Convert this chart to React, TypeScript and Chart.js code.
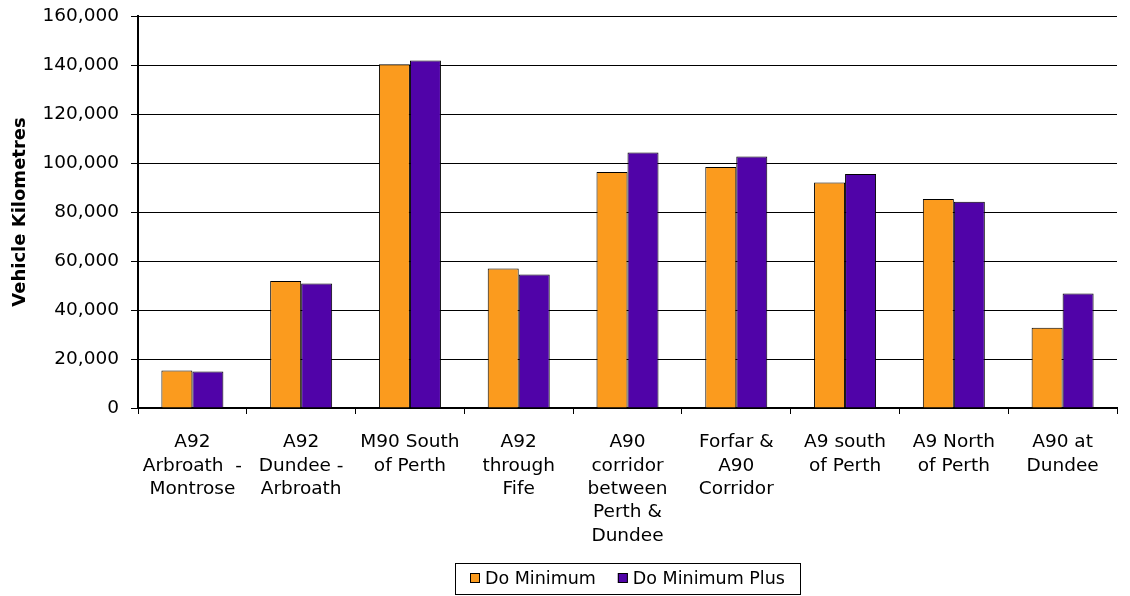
import React, { useEffect, useRef } from "react";
import { Chart, registerables } from "chart.js";

Chart.register(...registerables);

const categories: string[][] = [
  ["A92", "Arbroath  -", "Montrose"],
  ["A92", "Dundee -", "Arbroath"],
  ["M90 South", "of Perth"],
  ["A92", "through", "Fife"],
  ["A90", "corridor", "between", "Perth &", "Dundee"],
  ["Forfar &", "A90", "Corridor"],
  ["A9 south", "of Perth"],
  ["A9 North", "of Perth"],
  ["A90 at", "Dundee"],
];

const doMinimum: number[] = [15300, 51800, 140300, 56900, 96300, 98400, 92000, 85300, 32800];
const doMinimumPlus: number[] = [14900, 50800, 141800, 54500, 104300, 102700, 95500, 84200, 46700];

const seriesNames = ["Do Minimum", "Do Minimum Plus"];
const seriesColors = ["#FB9B1E", "#5003A8"];
const yTitle = "Vehicle Kilometres";

const FONT = "'DejaVu Sans', Verdana, sans-serif";

const customLegend = {
  id: "customLegend",
  afterDraw(chart: any) {
    const ctx = chart.ctx;
    const area = chart.chartArea;
    const cx = (area.left + area.right) / 2;
    const cy = 578;
    ctx.save();
    ctx.font = `17.5px ${FONT}`;
    ctx.textBaseline = "middle";
    ctx.fillStyle = "#000";
    const box = 10;
    const gapBoxText = 5;
    const gapItems = 22;
    const padX = 15;
    const items = chart.data.datasets.map((d: any) => ({
      label: d.label,
      color: d.backgroundColor,
      w: ctx.measureText(d.label).width,
    }));
    let total = 0;
    items.forEach((it: any, i: number) => {
      total += box + gapBoxText + it.w + (i < items.length - 1 ? gapItems : 0);
    });
    const left = Math.round(cx - total / 2);
    const boxW = Math.round(total + padX * 2);
    ctx.strokeStyle = "#000";
    ctx.lineWidth = 1;
    ctx.strokeRect(left - padX + 0.5, cy - 15 + 0.5, boxW, 31);
    let x = left;
    items.forEach((it: any) => {
      ctx.fillStyle = it.color;
      ctx.fillRect(x, cy - box / 2, box, box);
      ctx.strokeStyle = "#000";
      ctx.strokeRect(x + 0.5, cy - box / 2 + 0.5, box - 1, box - 1);
      ctx.fillStyle = "#000";
      ctx.fillText(it.label, x + box + gapBoxText, cy + 1);
      x += box + gapBoxText + it.w + gapItems;
    });
    ctx.restore();
  },
};

export default function App() {
  const ref = useRef<HTMLCanvasElement>(null);
  useEffect(() => {
    document.body.style.margin = "0";
    const chart = new Chart(ref.current!, {
      type: "bar",
      data: {
        labels: categories,
        datasets: [
          {
            label: seriesNames[0],
            data: doMinimum,
            backgroundColor: seriesColors[0],
            borderColor: "#000",
            borderWidth: 1,
            categoryPercentage: 0.57,
            barPercentage: 1,
          },
          {
            label: seriesNames[1],
            data: doMinimumPlus,
            backgroundColor: seriesColors[1],
            borderColor: "#000",
            borderWidth: 1,
            categoryPercentage: 0.57,
            barPercentage: 1,
          },
        ],
      },
      options: {
        responsive: false,
        animation: false,
        maintainAspectRatio: false,
        layout: { padding: { top: 16, right: 13, left: 0, bottom: 0 } },
        plugins: {
          tooltip: { enabled: false },
          legend: { display: false },
        },
        scales: {
          x: {
            grid: {
              display: true,
              drawOnChartArea: false,
              drawTicks: true,
              tickLength: 6,
              color: "#000",
              offset: true,
            },
            border: { color: "#000", width: 2 },
            ticks: {
              color: "#000",
              font: { family: FONT, size: 18.5, lineHeight: 1.26 },
              padding: 17,
              maxRotation: 0,
              autoSkip: false,
            },
            afterFit(scale: any) {
              scale.height = 188;
              scale.paddingLeft = 0;
              scale.paddingRight = 0;
            },
          },
          y: {
            min: 0,
            max: 160000,
            ticks: {
              stepSize: 20000,
              color: "#000",
              font: { family: FONT, size: 18.5 },
              padding: 12,
              callback: (v: any) => Number(v).toLocaleString("en-US"),
            },
            grid: { color: "#000", lineWidth: 1, tickLength: 7 },
            border: { color: "#000", width: 2 },
            title: {
              display: true,
              text: yTitle,
              color: "#000",
              font: { family: FONT, size: 18, weight: "bold" },
              padding: { top: 10, bottom: 0 },
            },
            afterFit(scale: any) {
              scale.width = 138;
              scale.paddingTop = 0;
              scale.paddingBottom = 0;
            },
          },
        },
      },
      plugins: [customLegend],
    });
    return () => chart.destroy();
  }, []);
  return <canvas ref={ref} width={1130} height={596} style={{ display: "block" }} />;
}
